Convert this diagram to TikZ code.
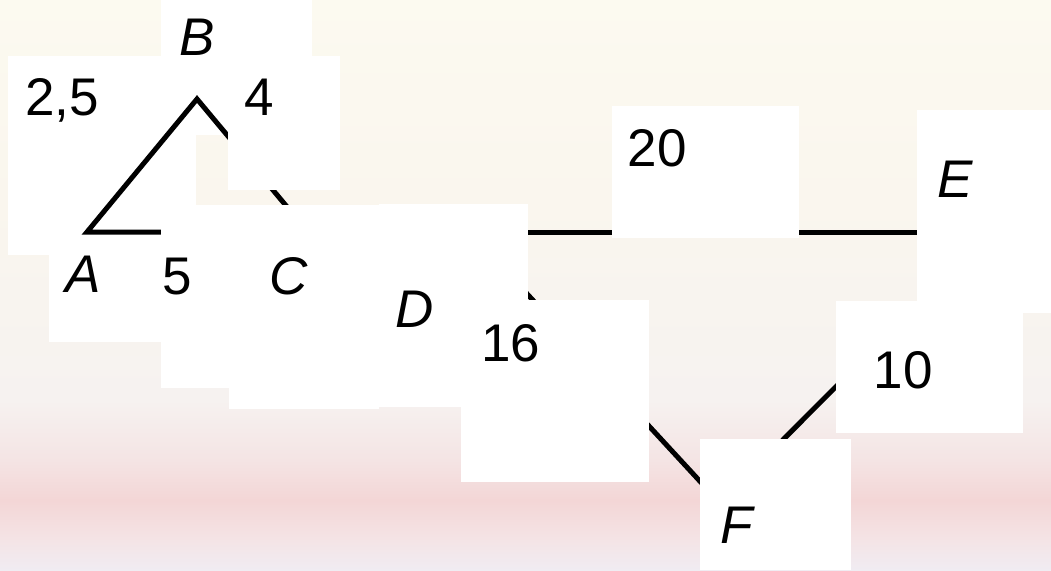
\documentclass[tikz,border=0pt]{standalone}
\usepackage{fontspec}
\setmainfont{Liberation Sans}
\pgfdeclareverticalshading{bgshade}{100bp}{
 rgb(0bp)=(0.941,0.925,0.949);
 rgb(25bp)=(0.941,0.925,0.949);
 rgb(27.6bp)=(0.957,0.894,0.902);
 rgb(31.1bp)=(0.953,0.839,0.839);
 rgb(34.6bp)=(0.957,0.894,0.894);
 rgb(39.9bp)=(0.965,0.949,0.941);
 rgb(57.5bp)=(0.980,0.965,0.933);
 rgb(75bp)=(0.988,0.980,0.941);
 rgb(100bp)=(0.988,0.980,0.941)}
\tikzset{
  wbox/.style={fill=white,draw=none,inner sep=0pt,outer sep=0pt,anchor=north west},
  edge/.style={line width=5pt,line join=miter,draw=black},
  lbl/.style={inner sep=0pt,anchor=base,font=\fontsize{53}{60}\selectfont},
  vlbl/.style={lbl,font=\fontsize{53}{60}\selectfont\itshape}
}
\newcommand\wbx[5]{\node[wbox,minimum width=#4pt,minimum height=#5pt] (#1) at (#2,#3) {};}
\begin{document}
\begin{tikzpicture}[x=1pt,y=-1pt]
\useasboundingbox (0,0) rectangle (1051,570);
\shade[shading=bgshade] (0,0) rectangle (1051,570);
% vertices
\coordinate (A) at (87,232);
\coordinate (B) at (197,99);
\coordinate (C) at (308,232);
\coordinate (D) at (470,232);
\coordinate (E) at (990,232);
\coordinate (F) at (720,503);
% boxes beneath the lines
\wbx{boxB}{161}{0}{151}{135}
\wbx{boxTF}{8}{56}{188}{199}
\wbx{boxA}{49}{240}{112}{102}
% edges
\draw[edge] (A) -- (B) -- (C) -- cycle;
\draw[edge] (D) -- (E);
\draw[edge] (D) -- (F) -- (E);
% boxes above the lines
\wbx{boxFour}{228}{56}{112}{134}
\wbx{boxFive}{161}{205}{68}{183}
\wbx{boxC}{229}{205}{150}{204}
\wbx{boxD}{379}{204}{149}{203}
\wbx{boxSixteen}{461}{300}{188}{182}
\wbx{boxTwenty}{612}{106}{187}{132}
\wbx{boxE}{917}{110}{134}{203}
\wbx{boxTen}{836}{301}{187}{132}
\wbx{boxF}{700}{439}{151}{131}
% labels
\node[vlbl] (lB) at (197,55) {B};
\node[lbl,anchor=base west] (lAB) at (25,115) {2,5};
\node[lbl] (lBC) at (259,115) {4};
\node[vlbl] (lA) at (83,292) {A};
\node[lbl] (lAC) at (177,294) {5};
\node[vlbl] (lC) at (289,294) {C};
\node[vlbl] (lD) at (415,327) {D};
\node[lbl] (lDF) at (511,361) {16};
\node[lbl] (lDE) at (657,166) {20};
\node[vlbl] (lE) at (955,197) {E};
\node[lbl] (lEF) at (903,388) {10};
\node[vlbl] (lF) at (737,543) {F};
\end{tikzpicture}
\end{document}
